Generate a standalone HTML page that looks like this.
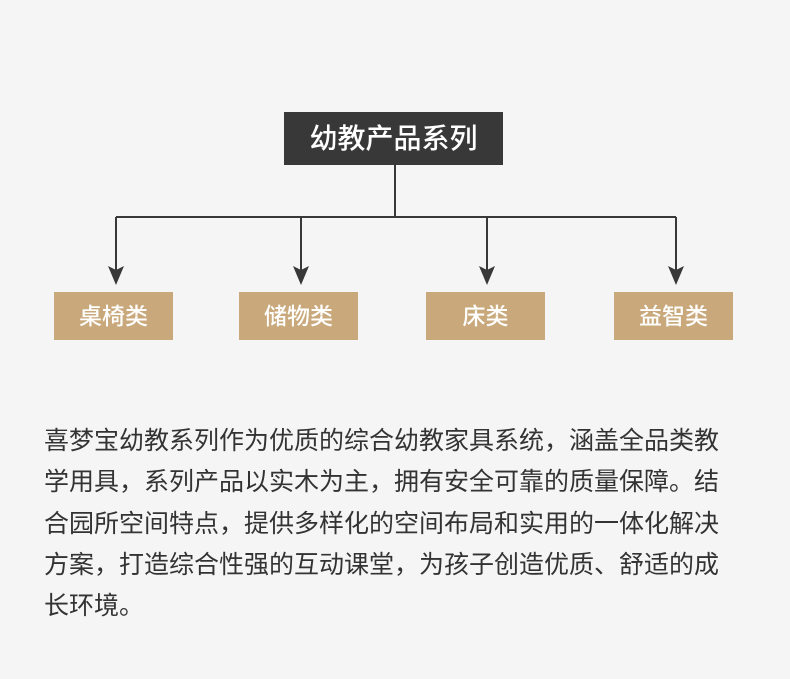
<!DOCTYPE html>
<html><head><meta charset="utf-8"><style>
html,body{margin:0;padding:0;background:#f5f5f5;width:790px;height:679px;overflow:hidden;}
body{position:relative;font-family:"Liberation Sans","Noto Sans CJK SC",sans-serif;}
.top{position:absolute;left:284px;top:112px;width:219px;height:53px;background:#383838;color:#fff;font-size:28px;line-height:53px;text-align:center;font-weight:500;}
.b{position:absolute;top:292px;width:119px;height:48px;background:#c9a97c;color:#fff;font-size:23px;line-height:48px;text-align:center;font-weight:500;}
.txt{position:absolute;left:44px;top:421px;font-size:25px;line-height:41.3px;color:#333;white-space:nowrap;}
</style></head><body>
<svg width="790" height="679" style="position:absolute;left:0;top:0">
<g stroke="#383838" stroke-width="2" fill="none">
<line x1="395" y1="165" x2="395" y2="217"/>
<line x1="116" y1="217" x2="676" y2="217"/>
<line x1="116" y1="217" x2="116" y2="275"/>
<line x1="301" y1="217" x2="301" y2="275"/>
<line x1="487" y1="217" x2="487" y2="275"/>
<line x1="676" y1="217" x2="676" y2="275"/>
</g>
<g fill="#383838">
<polygon points="108,266 116,270 124,266 116,285"/>
<polygon points="293,266 301,270 309,266 301,285"/>
<polygon points="479,266 487,270 495,266 487,285"/>
<polygon points="668,266 676,270 684,266 676,285"/>
</g>
</svg>
<div class="top">幼教产品系列</div>
<div class="b" style="left:54px">桌椅类</div>
<div class="b" style="left:239px">储物类</div>
<div class="b" style="left:426px">床类</div>
<div class="b" style="left:614px">益智类</div>
<div class="txt">喜梦宝幼教系列作为优质的综合幼教家具系统，涵盖全品类教<br>学用具，系列产品以实木为主，拥有安全可靠的质量保障。结<br>合园所空间特点，提供多样化的空间布局和实用的一体化解决<br>方案，打造综合性强的互动课堂，为孩子创造优质、舒适的成<br>长环境。</div>
</body></html>
